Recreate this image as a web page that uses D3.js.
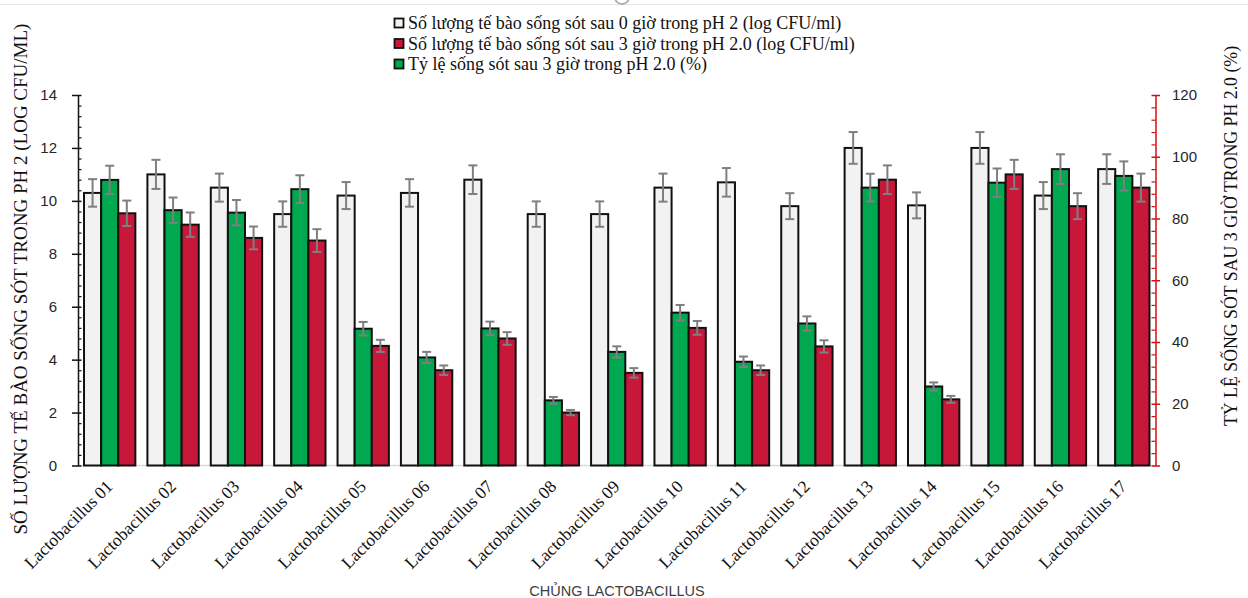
<!DOCTYPE html>
<html>
<head>
<meta charset="utf-8">
<script src="https://cdn.jsdelivr.net/npm/d3@7"></script>
<style>
  html, body { margin: 0; padding: 0; background: #ffffff; }
  svg { display: block; }
</style>
</head>
<body>
<svg id="chart" width="1248" height="598"></svg>
<script>
// Lactobacillus strains tested
const strains = ["Lactobacillus 01","Lactobacillus 02","Lactobacillus 03","Lactobacillus 04","Lactobacillus 05",
  "Lactobacillus 06","Lactobacillus 07","Lactobacillus 08","Lactobacillus 09","Lactobacillus 10",
  "Lactobacillus 11","Lactobacillus 12","Lactobacillus 13","Lactobacillus 14","Lactobacillus 15",
  "Lactobacillus 16","Lactobacillus 17"];

// viable count at 0 h in pH 2 (log CFU/ml)
const count0h = [10.3, 11.0, 10.5, 9.5, 10.2, 10.3, 10.8, 9.5, 9.5, 10.5, 10.7, 9.8, 12.0, 9.83, 12.0, 10.2, 11.2];
const count0hErr = [0.52, 0.55, 0.53, 0.48, 0.51, 0.52, 0.54, 0.48, 0.48, 0.53, 0.54, 0.49, 0.60, 0.49, 0.60, 0.51, 0.56];

// viable count after 3 h in pH 2.0 (log CFU/ml)
const count3h = [9.53, 9.1, 8.6, 8.5, 4.52, 3.6, 4.8, 2.0, 3.5, 5.2, 3.6, 4.5, 10.8, 2.5, 11.0, 9.8, 10.5];
const count3hErr = [0.48, 0.46, 0.43, 0.43, 0.23, 0.18, 0.24, 0.10, 0.18, 0.26, 0.18, 0.23, 0.54, 0.13, 0.55, 0.49, 0.53];

// survival rate after 3 h in pH 2.0 (%)
const survival = [92.5, 82.7, 81.9, 89.5, 44.3, 35.0, 44.4, 21.1, 36.8, 49.5, 33.6, 46.0, 90.0, 25.6, 91.6, 96.0, 93.8];
const survivalErr = [4.6, 4.1, 4.1, 4.5, 2.2, 1.8, 2.2, 1.1, 1.8, 2.5, 1.7, 2.3, 4.5, 1.3, 4.6, 4.8, 4.7];

const leftTicks = [0, 2, 4, 6, 8, 10, 12, 14];
const rightTicks = [0, 20, 40, 60, 80, 100, 120];

const legendLabels = [
  "Số lượng tế bào sống sót sau 0 giờ trong pH 2 (log CFU/ml)",
  "Số lượng tế bào sống sót sau 3 giờ trong pH 2.0 (log CFU/ml)",
  "Tỷ lệ sống sót sau 3 giờ trong pH 2.0 (%)"
];

const COLORS = { c0: "#f2f2f2", c3: "#c8183a", sv: "#00a94f" };
const SERIF = "'Liberation Serif', 'Times New Roman', serif";
const SANS = "'Liberation Sans', Arial, sans-serif";

const svg = d3.select("#chart");

// faint strip at the very top
svg.append("line").attr("x1", 0).attr("x2", 1248).attr("y1", 4.5).attr("y2", 4.5)
  .attr("stroke", "#e6e6e6").attr("stroke-width", 1);
svg.append("path").attr("d", d3.arc()({innerRadius: 6, outerRadius: 8, startAngle: Math.PI * 0.55, endAngle: Math.PI * 1.45}))
  .attr("transform", "translate(622,-3)").attr("fill", "#b0b0b0");

const plot = { left: 78, right: 1155.5, top: 95, bottom: 465.5 };

const x = d3.scaleBand().domain(strains).range([plot.left, plot.right]).paddingInner(0.19).paddingOuter(0.095);
const sub = d3.scaleBand().domain(["c0", "sv", "c3"]).range([0, x.bandwidth()]).padding(0);
const yL = d3.scaleLinear().domain([0, 14]).range([plot.bottom, plot.top]);
const yR = d3.scaleLinear().domain([0, 120]).range([plot.bottom, plot.top]);

// baseline
svg.append("line").attr("x1", plot.left).attr("x2", plot.right)
  .attr("y1", plot.bottom).attr("y2", plot.bottom)
  .attr("stroke", "#d9d9d9").attr("stroke-width", 1.5);

// bars
const rows = strains.map((s, i) => ({
  s,
  bars: [
    { key: "c0", v: count0h[i], e: count0hErr[i], y: yL },
    { key: "sv", v: survival[i], e: survivalErr[i], y: yR },
    { key: "c3", v: count3h[i], e: count3hErr[i], y: yL }
  ]
}));

const groups = svg.append("g").selectAll("g").data(rows).join("g")
  .attr("transform", d => `translate(${x(d.s)},0)`);

groups.selectAll("rect").data(d => d.bars).join("rect")
  .attr("x", b => sub(b.key))
  .attr("width", sub.bandwidth())
  .attr("y", b => b.y(b.v))
  .attr("height", b => plot.bottom - b.y(b.v))
  .attr("fill", b => COLORS[b.key])
  .attr("stroke", "#111")
  .attr("stroke-width", 2);

// error bars
const eb = groups.selectAll("g.err").data(d => d.bars).join("g").attr("class", "err")
  .attr("stroke", "#7f7f7f").attr("stroke-width", 2).attr("fill", "none");
eb.append("line")
  .attr("x1", b => sub(b.key) + sub.bandwidth() / 2).attr("x2", b => sub(b.key) + sub.bandwidth() / 2)
  .attr("y1", b => b.y(b.v + b.e)).attr("y2", b => b.y(b.v - b.e));
eb.append("line")
  .attr("x1", b => sub(b.key) + sub.bandwidth() / 2 - 4.5).attr("x2", b => sub(b.key) + sub.bandwidth() / 2 + 4.5)
  .attr("y1", b => b.y(b.v + b.e)).attr("y2", b => b.y(b.v + b.e));
eb.append("line")
  .attr("x1", b => sub(b.key) + sub.bandwidth() / 2 - 4.5).attr("x2", b => sub(b.key) + sub.bandwidth() / 2 + 4.5)
  .attr("y1", b => b.y(b.v - b.e)).attr("y2", b => b.y(b.v - b.e));

// left axis (log CFU/ml)
const minorL = d3.range(0, 14.001, 0.4).filter(v => Math.abs(v / 2 - Math.round(v / 2)) > 1e-6);
const gLminor = svg.append("g").attr("transform", `translate(${plot.left},0)`)
  .call(d3.axisLeft(yL).tickValues(minorL).tickSize(-3.5).tickFormat(""));
gLminor.select(".domain").remove();
gLminor.selectAll("line").attr("stroke", "#111").attr("stroke-width", 1.2);

const gL = svg.append("g").attr("transform", `translate(${plot.left},0)`)
  .call(d3.axisLeft(yL).tickValues(leftTicks).tickSize(6).tickSizeOuter(0).tickPadding(15));
gL.select(".domain").attr("stroke", "#111").attr("stroke-width", 1.5);
gL.selectAll(".tick line").attr("x1", 3.5).attr("stroke", "#111").attr("stroke-width", 1.5);
gL.selectAll(".tick text").attr("font-family", SANS).attr("font-size", 15).attr("fill", "#262626");

// right axis (%)
const minorR = d3.range(0, 120.001, 4).filter(v => v % 20 !== 0);
const gRminor = svg.append("g").attr("transform", `translate(${plot.right},0)`)
  .call(d3.axisRight(yR).tickValues(minorR).tickSize(-4).tickFormat(""));
gRminor.select(".domain").remove();
gRminor.selectAll("line").attr("stroke", "#d01010").attr("stroke-width", 1.2);

const gR = svg.append("g").attr("transform", `translate(${plot.right},0)`)
  .call(d3.axisRight(yR).tickValues(rightTicks).tickSize(4.5).tickSizeOuter(0).tickPadding(12));
gR.select(".domain").attr("stroke", "#d01010").attr("stroke-width", 1.5);
gR.selectAll(".tick line").attr("x1", -4).attr("stroke", "#d01010").attr("stroke-width", 1.5);
gR.selectAll(".tick text").attr("font-family", SANS).attr("font-size", 15).attr("fill", "#262626");

// category labels
const gX = svg.append("g").attr("transform", `translate(0,${plot.bottom})`)
  .call(d3.axisBottom(x).tickSize(0).tickPadding(0));
gX.select(".domain").remove();
gX.selectAll(".tick text")
  .attr("font-family", SERIF).attr("font-size", 17.5).attr("fill", "#111")
  .attr("text-anchor", "end").attr("dy", null).attr("y", 0)
  .attr("transform", "translate(4,22) rotate(-45)");

// axis titles
svg.append("text").attr("x", 617).attr("y", 596)
  .attr("text-anchor", "middle").attr("font-family", SANS).attr("font-size", 14.5).attr("fill", "#404040")
  .text("CHỦNG LACTOBACILLUS");

svg.append("text").attr("transform", "translate(27,279) rotate(-90)")
  .attr("text-anchor", "middle").attr("font-family", SERIF).attr("font-size", 19).attr("fill", "#111")
  .text("SỐ LƯỢNG TẾ BÀO SỐNG SÓT TRONG PH 2 (LOG CFU/ML)");

svg.append("text").attr("transform", "translate(1237,236) rotate(-90)")
  .attr("text-anchor", "middle").attr("font-family", SERIF).attr("font-size", 17.8).attr("fill", "#111")
  .text("TỶ LỆ SỐNG SÓT SAU 3 GIỜ TRONG PH 2.0 (%)");

// legend
const legendKeys = ["c0", "c3", "sv"];
const lg = svg.append("g").attr("transform", "translate(394,18)");
const item = lg.selectAll("g").data(legendKeys).join("g")
  .attr("transform", (d, i) => `translate(0,${i * 20.5})`);
item.append("rect").attr("x", 0.5).attr("y", 0.5).attr("width", 9).attr("height", 9)
  .attr("fill", d => COLORS[d]).attr("stroke", "#111").attr("stroke-width", 1.8);
item.append("text").attr("x", 14).attr("y", 11)
  .attr("font-family", SERIF).attr("font-size", 18).attr("fill", "#111")
  .text((d, i) => legendLabels[i]);
</script>
</body>
</html>
